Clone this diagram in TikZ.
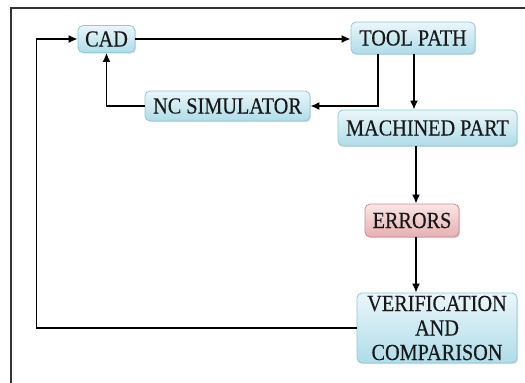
\documentclass[tikz,border=0pt]{standalone}
\usepackage{fontspec}
\setmainfont{Liberation Serif}[FakeStretch=0.88,FakeBold=0.3]
\usetikzlibrary{arrows.meta,shadows}
\definecolor{bluetop}{HTML}{EAF7FA}
\definecolor{bluebot}{HTML}{AEDCE8}
\definecolor{blueedge}{HTML}{8FC8D6}
\definecolor{redtop}{HTML}{FAE6E6}
\definecolor{redbot}{HTML}{E6B0B2}
\definecolor{rededge}{HTML}{CC8A8E}
\definecolor{framecol}{HTML}{333333}
\tikzset{
  box/.style={draw=blueedge, line width=0.8pt, rounded corners=5pt,
    top color=bluetop, bottom color=bluebot, inner sep=0pt,
    font=\fontsize{23}{24.5}\selectfont, text=black!90, align=center,
    drop shadow={opacity=0.25, shadow xshift=1.2pt, shadow yshift=-1.2pt}},
  redbox/.style={box, draw=rededge, top color=redtop, bottom color=redbot},
  arr/.style={line width=1.6pt, -{Latex[length=9pt,width=8pt]}},
  frame/.style={line width=1.5pt, draw=framecol}
}
\begin{document}
\begin{tikzpicture}[x=1pt,y=-1pt]
\useasboundingbox (0,0) rectangle (525,383);
\draw[frame] (525,8) -- (11,8) -- (11,383);
\node[box, minimum width=57pt, minimum height=27pt] (cad) at (106.5,39) {CAD};
\node[box, minimum width=124pt, minimum height=32pt] (tool) at (413,38) {TOOL PATH};
\node[box, minimum width=165pt, minimum height=30pt] (nc) at (227.5,106) {NC SIMULATOR};
\node[box, minimum width=179pt, minimum height=36pt] (mach) at (427.5,128) {MACHINED PART};
\node[redbox, minimum width=94pt, minimum height=33pt] (err) at (412,220.5) {ERRORS};
\node[box, minimum width=160pt, minimum height=70pt] (ver) at (437,328) {VERIFICATION\\AND\\COMPARISON};
\path ([xshift=1pt]tool.south) coordinate (ts);
\path ([xshift=-35pt]tool.south) coordinate (tn);
\path ([xshift=4pt]err.north) coordinate (en);
\path ([xshift=4pt]err.south) coordinate (es);
\draw[arr] (cad.east) -- (cad.east -| tool.west);
\draw[arr] (ver.west) -- ++(-320,0) |- (cad.west);
\draw[arr] (tn) |- (nc.east);
\draw[arr] (nc.west) -| (cad.south);
\draw[arr] (ts) -- (ts |- mach.north);
\draw[arr] (en |- mach.south) -- (en);
\draw[arr] (es) -- (es |- ver.north);
\end{tikzpicture}
\end{document}
